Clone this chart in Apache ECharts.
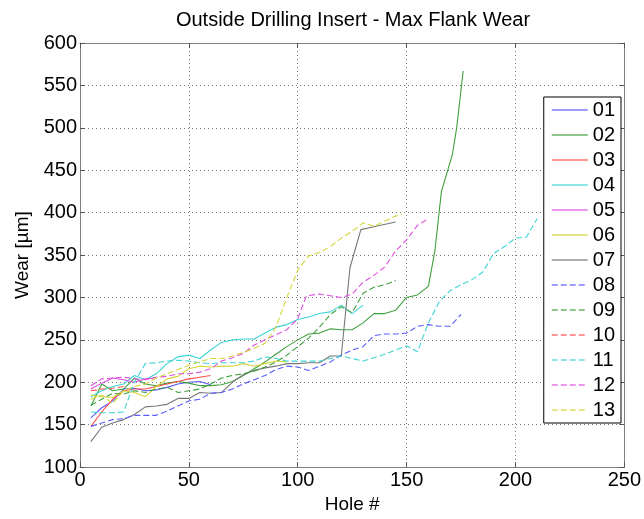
<!DOCTYPE html>
<html>
<head>
<meta charset="utf-8">
<script src="https://cdn.jsdelivr.net/npm/echarts@6/dist/echarts.min.js"></script>
<style>html,body{margin:0;padding:0;background:#fff}#c{width:644px;height:519px}</style>
</head>
<body>
<div id="c"></div>
<script>
// ---- data (hole #, wear in µm) ----
var seriesNames = ['01','02','03','04','05','06','07','08','09','10','11','12','13'];
var xTicks = [0, 50, 100, 150, 200, 250];
var yTicks = [100, 150, 200, 250, 300, 350, 400, 450, 500, 550, 600];

var s01 = [[5,158],[10,170],[15,178],[20,192],[25,193],[30,190],[35,191],[40,194],[45,198],[50,200],[55,201],[60,197]];
var s02 = [[5,172],[10,198],[15,190],[20,192],[25,205],[30,198],[35,196],[40,199],[45,201],[50,199],[55,196],[60,196],[65,197],[70,201],[75,208],[80,216],[85,224],[90,233],[95,242],[100,250],[105,257],[110,258],[115,263],[120,262],[125,262],[130,270],[135,281],[140,281],[145,285],[150,300],[155,303],[160,313],[163,355],[166,425],[171,468],[173,500],[176,567]];
var s03 = [[5,148],[10,165],[15,180],[20,190],[25,192],[30,192],[35,195],[40,198],[45,201],[50,204],[55,206],[60,208]];
var s04 = [[5,183],[10,190],[15,195],[20,198],[25,208],[30,203],[35,210],[40,222],[45,230],[50,232],[55,228],[60,238],[65,247],[70,250],[75,251],[80,251],[85,258],[90,265],[95,268],[100,274],[105,277],[110,281],[115,283],[120,291],[125,281],[130,291]];
var s05 = [[5,192],[10,199],[15,205],[20,203],[25,200],[30,204],[35,205]];
var s06 = [[5,185],[10,183],[15,182],[20,190],[25,188],[30,183],[35,195],[40,204],[45,207],[50,216],[55,219],[60,218],[65,219],[70,219],[75,222],[80,219],[85,222],[90,225],[95,224]];
var s07 = [[5,130],[10,147],[15,152],[20,156],[25,162],[30,171],[35,172],[40,174],[45,181],[50,181],[55,188],[60,187],[65,188],[70,200],[75,209],[80,214],[85,217],[90,219],[95,222],[100,222],[105,223],[110,223],[115,231],[120,231],[124,335],[129,380],[136,384],[145,389]];
var s08 = [[5,148],[10,152],[15,156],[20,157],[25,161],[30,161],[35,161],[40,166],[45,172],[50,178],[55,180],[60,187],[65,188],[70,192],[75,198],[80,203],[85,208],[90,215],[95,219],[100,218],[105,214],[110,219],[115,224],[120,232],[125,238],[130,242],[135,255],[140,257],[145,257],[150,258],[155,266],[160,268],[165,266],[170,266],[175,280]];
var s09 = [[5,173],[10,180],[15,187],[20,186],[25,190],[30,188],[35,192],[40,194],[45,188],[50,190],[55,192],[60,198],[65,205],[70,208],[75,210],[80,213],[85,218],[90,224],[95,232],[100,242],[105,252],[110,265],[115,280],[120,289],[125,282],[130,305],[135,312],[140,315],[145,320]];
var s10 = [[5,190],[10,192],[15,193],[20,195]];
var s11 = [[5,165],[10,164],[15,164],[20,165],[25,200],[30,222],[35,223],[40,225],[45,226],[50,225],[55,223],[60,222],[65,223],[70,223],[75,223],[80,225],[85,230],[90,228],[95,225],[100,225],[105,225],[110,225],[115,228],[120,231],[125,228],[130,225],[135,229],[140,233],[145,238],[150,243],[155,236],[160,270],[165,295],[170,308],[175,315],[180,321],[185,330],[190,352],[195,360],[200,370],[205,371],[210,393]];
var s12 = [[5,196],[10,204],[15,205],[20,206],[25,204],[30,203],[35,206],[40,207],[45,210],[50,210],[55,212],[60,216],[65,225],[70,229],[75,234],[80,244],[85,250],[90,256],[95,262],[100,275],[104,302],[110,304],[115,302],[120,300],[125,304],[130,318],[135,326],[140,336],[145,355],[150,368],[155,385],[160,393]];
var s13 = [[5,180],[10,185],[15,175],[20,190],[25,195],[30,198],[35,205],[40,210],[45,215],[50,220],[55,224],[60,228],[65,228],[70,231],[75,235],[80,240],[85,246],[90,265],[95,300],[100,332],[105,349],[110,353],[115,360],[120,370],[125,378],[130,388],[135,384],[140,390],[145,396],[148,398]];

var allData = [s01,s02,s03,s04,s05,s06,s07,s08,s09,s10,s11,s12,s13];
var colors = ['#5b5bff','#3fa03f','#ff5050','#3fd5d5','#e050e0','#d5d53a','#777777','#5b5bff','#3fa03f','#ff5050','#3fd5d5','#e050e0','#d5d53a'];
var dashed = [false,false,false,false,false,false,false,true,true,true,true,true,true];

var FONT = "'Liberation Sans', Arial, Helvetica, sans-serif";
var chart = echarts.init(document.getElementById('c'), null, {renderer:'canvas'});

var series = allData.map(function(d, i){
  return {
    name: seriesNames[i], type: 'line', data: d,
    xAxisIndex: 0, yAxisIndex: 0,
    showSymbol: false, symbol: 'none', animation: false,
    lineStyle: { color: colors[i], width: 1.1, type: dashed[i] ? [6,3] : 'solid' },
    itemStyle: { color: colors[i] },
    emphasis: { disabled: true }
  };
});

function axisBase(){
  return {
    type: 'value', min: 0, max: 250, interval: 50,
    axisLine: { show: true, onZero: false, lineStyle: { color: '#808080', width: 1 } },
    axisTick: { show: true, inside: true, length: 5, lineStyle: { color: '#555' } }
  };
}
var xMain = axisBase();
xMain.position = 'bottom';
xMain.name = 'Hole #'; xMain.nameLocation = 'middle'; xMain.nameGap = 25;
xMain.nameTextStyle = { fontSize: 19, color: '#000', fontFamily: FONT };
xMain.axisLabel = { fontSize: 20, color: '#000', fontFamily: FONT, margin: 3, formatter: function(v){ return xTicks.indexOf(v) >= 0 ? String(v) : ''; } };
xMain.splitLine = { show: true, lineStyle: { color: '#777', type: [1,3], width: 1 } };
var xTop = axisBase();
xTop.position = 'top'; xTop.axisLabel = { show: false }; xTop.splitLine = { show: false };

function yBase(){
  return {
    type: 'value', min: 100, max: 600, interval: 50,
    axisLine: { show: true, onZero: false, lineStyle: { color: '#808080', width: 1 } },
    axisTick: { show: true, inside: true, length: 5, lineStyle: { color: '#555' } }
  };
}
var yMain = yBase();
yMain.position = 'left';
yMain.name = 'Wear [\u00b5m]'; yMain.nameLocation = 'middle'; yMain.nameGap = 41;
yMain.nameTextStyle = { fontSize: 19, color: '#000', fontFamily: FONT };
yMain.axisLabel = { fontSize: 20, color: '#000', fontFamily: FONT, margin: 3, formatter: function(v){ return yTicks.indexOf(v) >= 0 ? String(v) : ''; } };
yMain.splitLine = { show: true, lineStyle: { color: '#777', type: [1,3], width: 1 } };
var yRight = yBase();
yRight.position = 'right'; yRight.axisLabel = { show: false }; yRight.splitLine = { show: false };

chart.setOption({
  animation: false,
  backgroundColor: '#fff',
  title: {
    text: 'Outside Drilling Insert - Max Flank Wear',
    left: 353, top: 10, textAlign: 'center', padding: 0,
    textStyle: { fontSize: 20, fontWeight: 'normal', color: '#000', fontFamily: FONT }
  },
  grid: { left: 80, right: 17, top: 43, bottom: 46, containLabel: false },
  xAxis: [xMain, xTop],
  yAxis: [yMain, yRight],
  legend: {
    data: seriesNames,
    orient: 'vertical', right: 23, top: 97,
    backgroundColor: '#fff', borderColor: '#000', borderWidth: 1, borderRadius: 0,
    padding: [3, 6, 3, 7],
    itemWidth: 36, itemHeight: 10, itemGap: 5, itemTextGap: 5,
    itemStyle: { opacity: 0 },
    lineStyle: { width: 2, opacity: 0.6 },
    textStyle: { fontSize: 20, color: '#000', fontFamily: FONT },
    selectedMode: false
  },
  series: series
});
</script>
</body>
</html>
